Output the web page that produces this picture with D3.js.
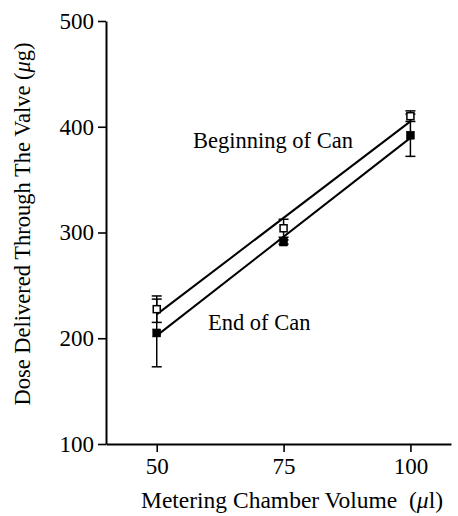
<!DOCTYPE html>
<html>
<head>
<meta charset="utf-8">
<script src="https://d3js.org/d3.v7.min.js"></script>
<style>
  body { margin: 0; background: #fff; }
</style>
</head>
<body>
<script>
// values
const volumes = [50, 75, 100];
const beginMeans = [227.5, 304, 410];
const beginErr = [12.5, 8.5, 5];
const endMeans = [205, 291, 392];
const endErr = [32, 2, 20];
const xTicks = [50, 75, 100];
const yTicks = [100, 200, 300, 400, 500];

const W = 458, H = 516;
const serif = "'Liberation Serif', 'Times New Roman', 'DejaVu Serif', serif";

let svg = d3.select("body").append("svg")
  .attr("width", W)
  .attr("height", H);

const x = d3.scaleLinear().domain([40, 108]).range([106, 451]);
const y = d3.scaleLinear().domain([100, 500]).range([444, 21]);

// least squares line through the points of one series
function fit(xs, ys) {
  const mx = d3.mean(xs), my = d3.mean(ys);
  let num = 0, den = 0;
  xs.forEach((v, i) => { num += (v - mx) * (ys[i] - my); den += (v - mx) * (v - mx); });
  const b = num / den, a = my - b * mx;
  return v => a + b * v;
}

const yAxis = svg.append("g")
  .attr("transform", "translate(" + x(40) + ",0)")
  .call(d3.axisLeft(y).tickValues(yTicks).tickSize(8).tickSizeOuter(0).tickPadding(4));

const xAxis = svg.append("g")
  .attr("transform", "translate(0," + y(100) + ")")
  .call(d3.axisBottom(x).tickValues(xTicks).tickSize(8).tickSizeOuter(0).tickPadding(6));

svg.selectAll(".domain").attr("stroke-width", 2);
svg.selectAll(".tick line").attr("stroke-width", 1.6);
svg.selectAll(".tick text")
  .style("font-family", serif)
  .style("font-size", "23px")
  .attr("fill", "black");

const yLabel = svg.append("text")
  .attr("transform", "translate(30,224) rotate(-90)")
  .attr("text-anchor", "middle")
  .style("font-family", serif)
  .style("font-size", "22.5px")
  .attr("fill", "black");
yLabel.append("tspan").text("Dose Delivered Through The Valve (");
yLabel.append("tspan").style("font-style", "italic").text("μ");
yLabel.append("tspan").text("g)");

const xLabel = svg.append("text")
  .attr("x", 292)
  .attr("y", 508)
  .attr("text-anchor", "middle")
  .style("font-family", serif)
  .style("font-size", "23.5px")
  .style("white-space", "pre")
  .attr("fill", "black");
xLabel.append("tspan").text("Metering Chamber Volume  (");
xLabel.append("tspan").style("font-style", "italic").text("μ");
xLabel.append("tspan").text("l)");

const series = [
  { means: endMeans, err: endErr, open: false },
  { means: beginMeans, err: beginErr, open: true }
];

series.forEach(s => {
  const f = fit(volumes, s.means);
  svg.append("line")
    .attr("x1", x(volumes[0]))
    .attr("y1", y(f(volumes[0])))
    .attr("x2", x(volumes[volumes.length - 1]))
    .attr("y2", y(f(volumes[volumes.length - 1])))
    .attr("stroke", "black")
    .attr("stroke-width", 2);

  const g = svg.append("g");
  volumes.forEach((v, i) => {
    const lo = s.means[i] - s.err[i], hi = s.means[i] + s.err[i];
    g.append("line")
      .attr("x1", x(v)).attr("x2", x(v))
      .attr("y1", y(lo)).attr("y2", y(hi))
      .attr("stroke", "black").attr("stroke-width", 1.5);
    [lo, hi].forEach(e => {
      g.append("line")
        .attr("x1", x(v) - 5).attr("x2", x(v) + 5)
        .attr("y1", y(e)).attr("y2", y(e))
        .attr("stroke", "black").attr("stroke-width", 1.5);
    });
  });
});

series.forEach(s => {
  const sz = s.open ? 7 : 8;
  svg.selectAll()
    .data(volumes)
    .enter()
    .append("rect")
    .attr("x", d => x(d) - sz / 2)
    .attr("y", (d, i) => y(s.means[i]) - sz / 2)
    .attr("width", sz)
    .attr("height", sz)
    .attr("fill", s.open ? "white" : "black")
    .attr("stroke", "black")
    .attr("stroke-width", s.open ? 1.5 : 0.5);
});

svg.append("text")
  .attr("x", 193)
  .attr("y", 148)
  .style("font-family", serif)
  .style("font-size", "22.5px")
  .attr("fill", "black")
  .text("Beginning of Can");

svg.append("text")
  .attr("x", 208)
  .attr("y", 330)
  .style("font-family", serif)
  .style("font-size", "22.5px")
  .attr("fill", "black")
  .text("End of Can");
</script>
</body>
</html>
